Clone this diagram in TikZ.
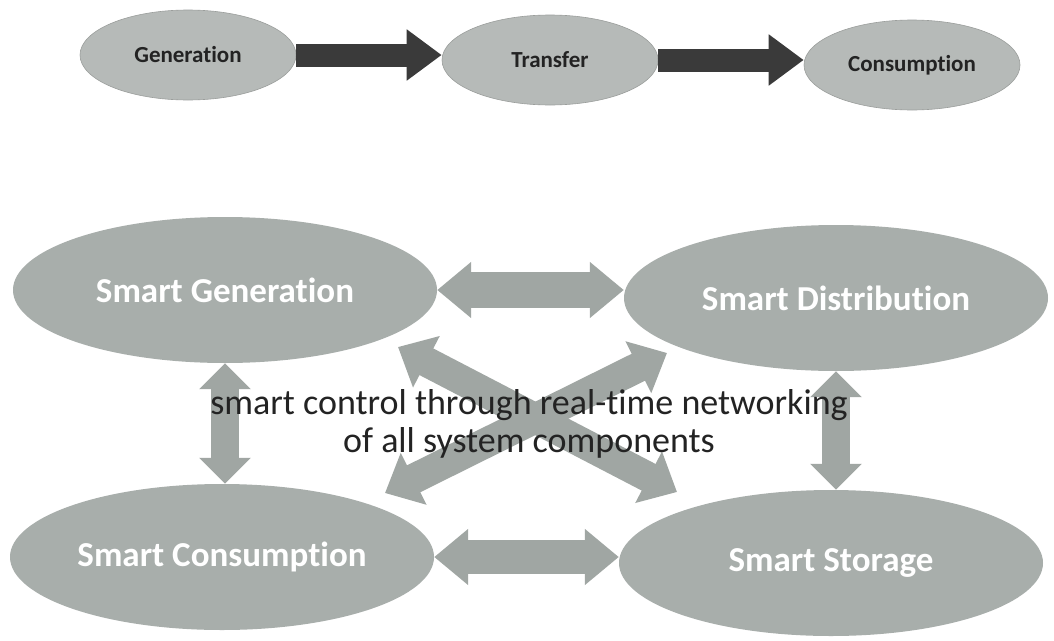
\documentclass[tikz,border=0pt]{standalone}
\usepackage{fontspec}
\setmainfont{Carlito}[Ligatures={NoCommon,NoRequired,NoContextual,NoRare,NoDiscretionary}]
\usetikzlibrary{arrows.meta,shapes.geometric}
\definecolor{topfill}{RGB}{182,186,184}
\definecolor{botfill}{RGB}{168,174,171}
\definecolor{arrowgray}{RGB}{160,166,163}
\definecolor{darkarrow}{RGB}{58,58,58}
\definecolor{inktext}{RGB}{35,35,35}
\newcommand\tiSep{t\kern0pt i}
\begin{document}
\begin{tikzpicture}[x=1pt,y=-1pt,
  topell/.style={ellipse, fill=topfill, draw=topfill!85!black, line width=0.6pt, inner sep=0pt,
    minimum width=216pt, minimum height=90pt, font=\fontsize{23}{26}\selectfont\bfseries, text=inktext},
  botell/.style={ellipse, fill=botfill, inner sep=0pt, minimum width=424pt, minimum height=146pt,
    font=\fontsize{35}{40}\selectfont\bfseries, text=white},
  darkarr/.style={draw=darkarrow, line width=23pt, -{Triangle[length=35pt,width=49pt]}},
  harr/.style={draw=arrowgray, line width=36pt,
    {Triangle[length=34pt,width=54pt]}-{Triangle[length=34pt,width=54pt]}},
  varr/.style={draw=arrowgray, line width=28pt,
    {Triangle[length=26pt,width=50pt]}-{Triangle[length=26pt,width=50pt]}},
  xarr/.style={draw=arrowgray, line width=30pt,
    {Triangle[length=32pt,width=56pt]}-{Triangle[length=32pt,width=56pt]}},
]
\fill[white] (0,0) rectangle (1054,640);
\useasboundingbox (0,0) rectangle (1054,640);

% top row
\node[topell] (gen) at (188,55) {Genera\tiSep on};
\node[topell] (tra) at (550,60) {Transfer};
\node[topell] (con) at (912,65) {Consump\tiSep on};
\draw[darkarr] (gen.east) -- (gen.east -| tra.west);
\draw[darkarr] (tra.east) -- (tra.east -| con.west);

% diagonal arrows
\coordinate (a1) at (398,347);
\coordinate (a2) at (677,492);
\coordinate (b1) at (385,493);
\coordinate (b2) at (667,353);
\draw[xarr] (a1) -- (a2);
\draw[xarr] (b1) -- (b2);

% bottom ellipses
\node[botell] (sg) at (225,290) {Smart Genera\tiSep on};
\node[botell] (sd) at (836,298) {Smart Distribu\tiSep on};
\node[botell] (sc) at (222,557) {Smart Consump\tiSep on};
\node[botell] (ss) at (831,563) {Smart Storage};

% connecting double arrows
\draw[harr] (sg.east) -- (sg.east -| sd.west);
\draw[harr, line width=34pt] (sc.east) -- (sc.east -| ss.west);
\draw[varr] (sg.south) -- (sg.south |- sc.north);
\draw[varr] (sd.south) -- (sd.south |- ss.north);

% centre text
\node[font=\fontsize{36}{38}\selectfont, text=inktext, align=center] (txt) at (529,424)
  {smart control through real-\tiSep me networking\\of all system components};
\end{tikzpicture}
\end{document}
